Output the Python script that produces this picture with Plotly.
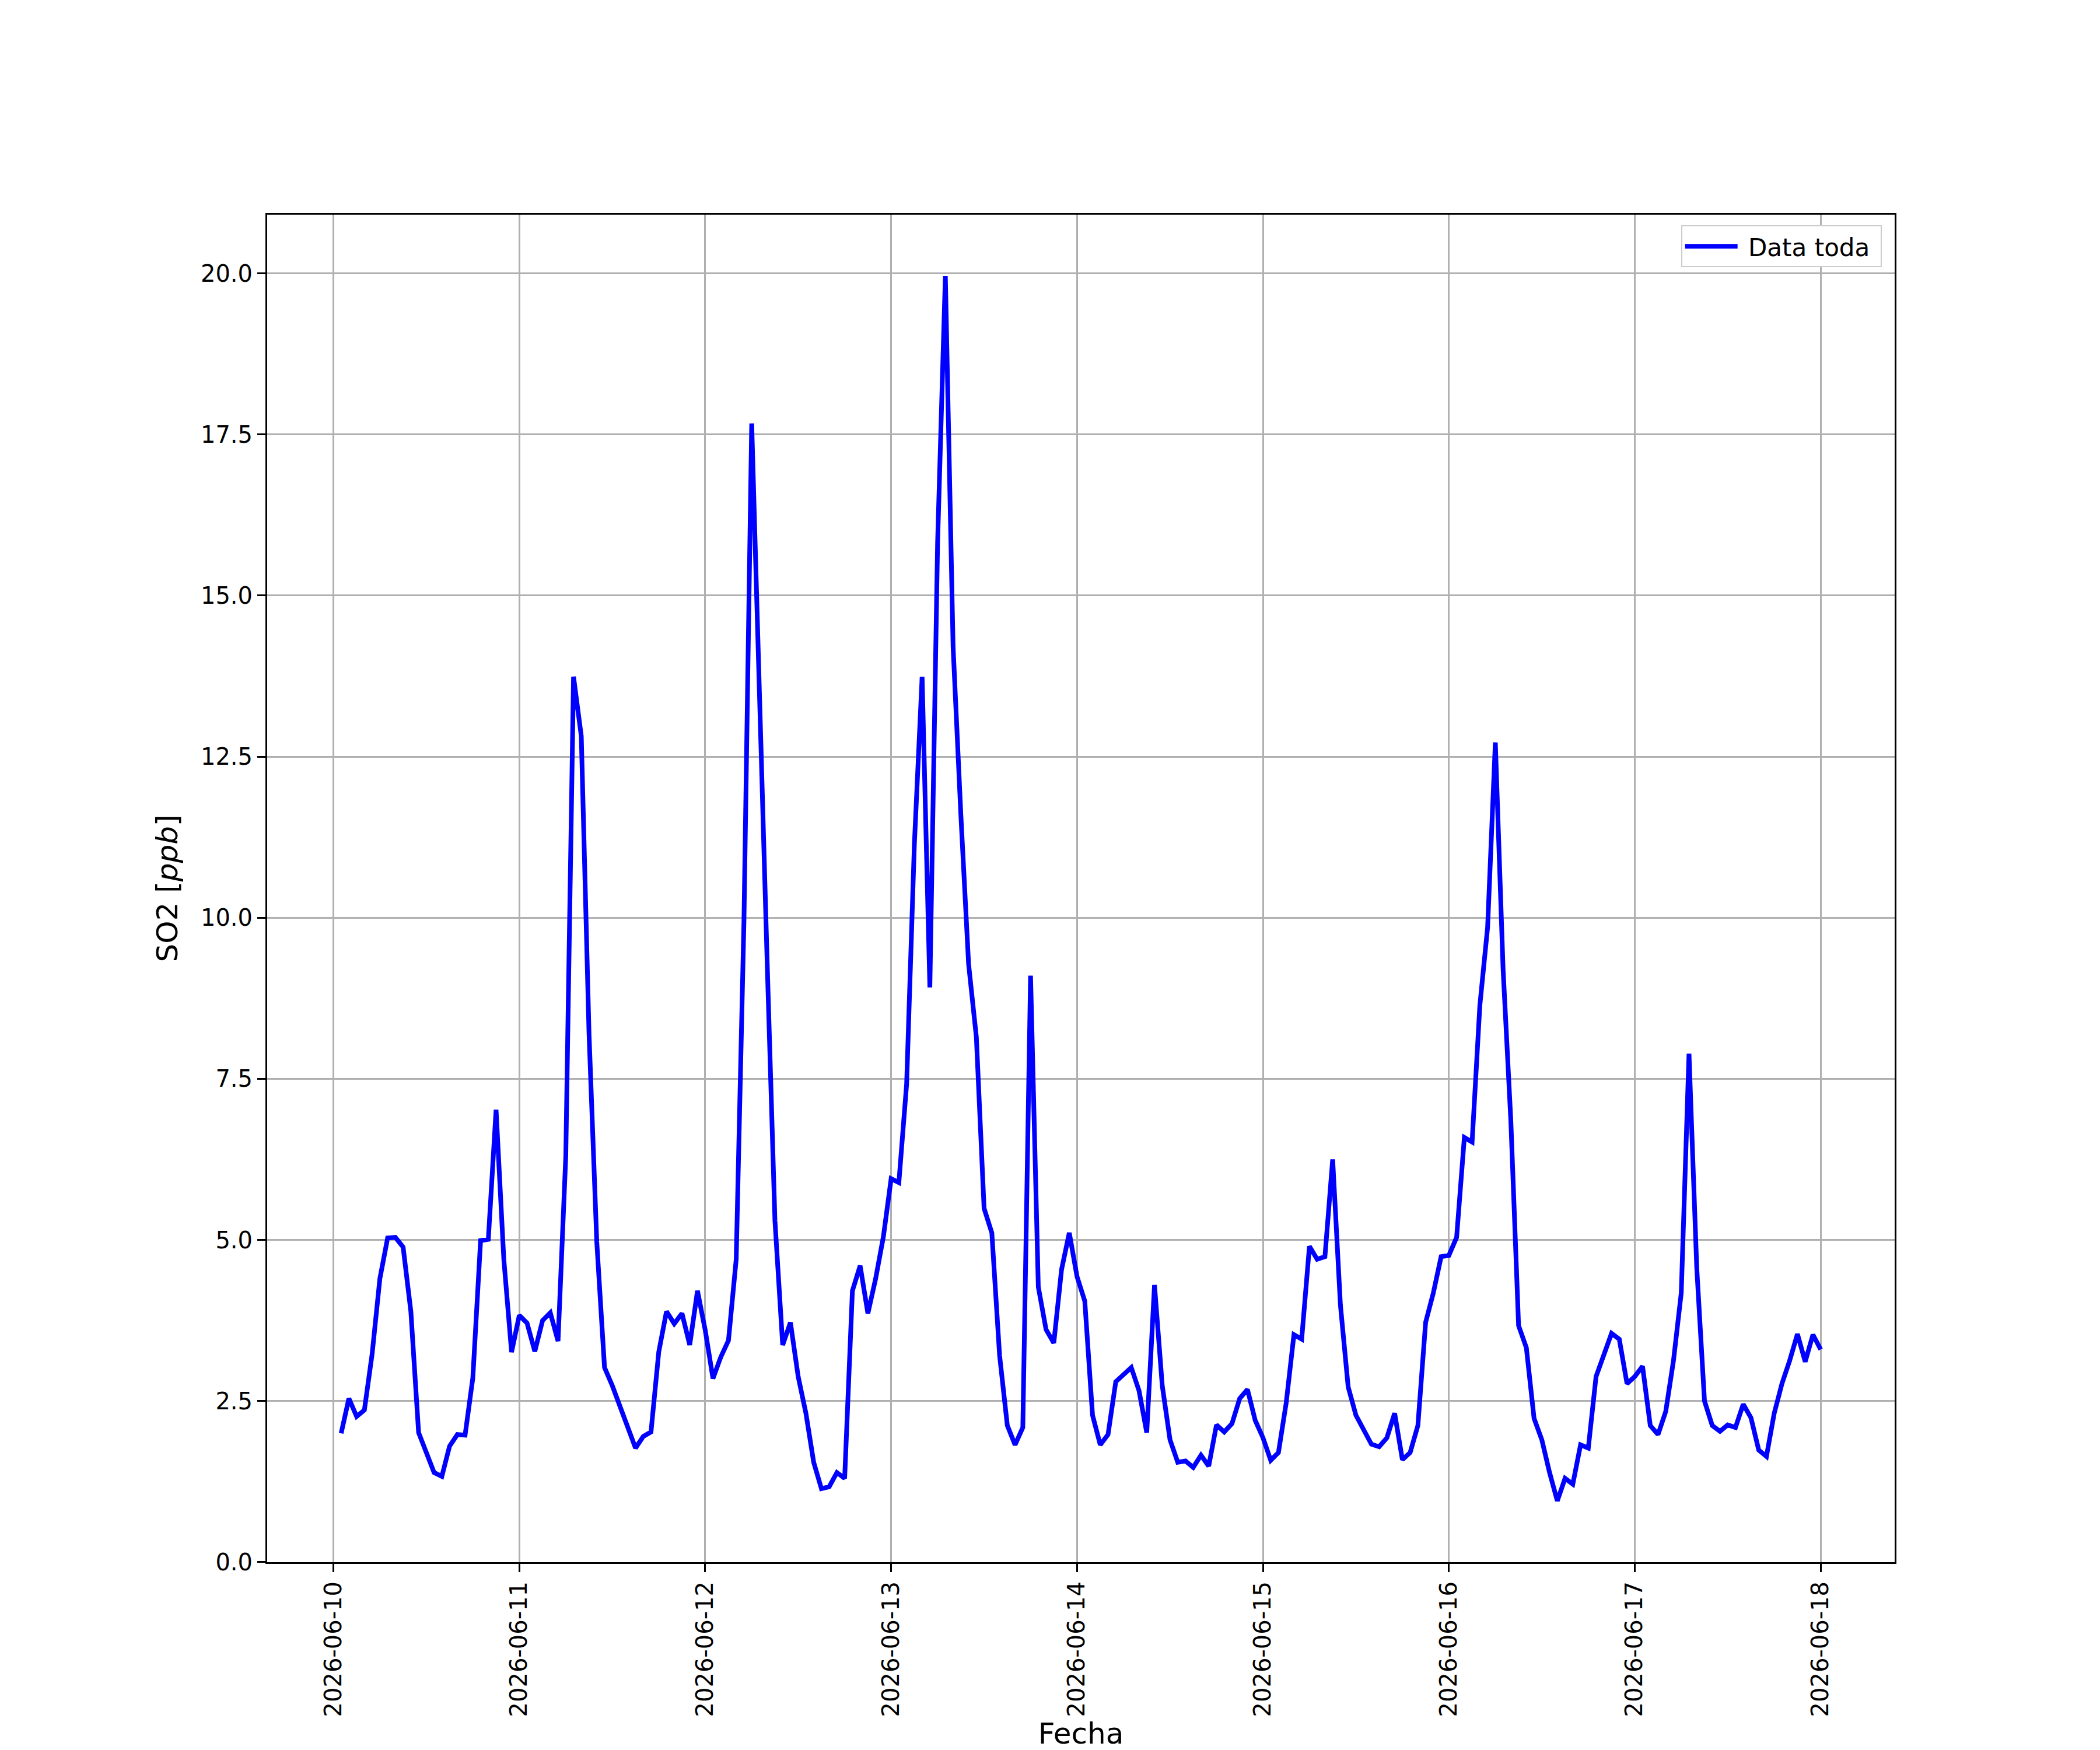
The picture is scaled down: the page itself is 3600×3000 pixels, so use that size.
import pandas as pd
import plotly.graph_objects as go

# hourly SO2 readings, one list per day (06-10 starts at 01:00, 06-18 has only 00:00)
so2_0610 = [2.0, 2.54, 2.26, 2.36, 3.23, 4.40, 5.03, 5.04, 4.89, 3.89, 2.01, 1.71,
            1.39, 1.33, 1.80, 1.98, 1.97, 2.86, 4.99, 5.01, 7.02, 4.70, 3.26]
so2_0611 = [3.83, 3.71, 3.27, 3.75, 3.87, 3.43, 6.30, 13.74, 12.82, 8.2, 4.97, 3.02,
            2.74, 2.42, 2.09, 1.77, 1.95, 2.02, 3.26, 3.89, 3.70, 3.86, 3.37, 4.21]
so2_0612 = [3.6, 2.85, 3.18, 3.44, 4.70, 9.95, 17.67, 13.3, 9.3, 5.30, 3.37, 3.72,
            2.88, 2.31, 1.55, 1.14, 1.17, 1.39, 1.30, 4.21, 4.60, 3.86, 4.40, 5.05]
so2_0613 = [5.95, 5.89, 7.42, 11.14, 13.74, 8.92, 15.83, 19.96, 14.2, 11.6, 9.28, 8.15,
            5.49, 5.11, 3.21, 2.12, 1.82, 2.09, 9.1, 4.27, 3.61, 3.40, 4.54, 5.11]
so2_0614 = [4.43, 4.05, 2.28, 1.82, 1.98, 2.80, 2.91, 3.02, 2.66, 2.01, 4.30, 2.74,
            1.90, 1.55, 1.57, 1.47, 1.66, 1.49, 2.13, 2.02, 2.15, 2.54, 2.68, 2.20]
so2_0615 = [1.93, 1.58, 1.70, 2.47, 3.53, 3.46, 4.90, 4.70, 4.74, 6.25, 3.99, 2.72,
            2.28, 2.04, 1.83, 1.79, 1.93, 2.31, 1.59, 1.70, 2.12, 3.72, 4.18, 4.74]
so2_0616 = [4.76, 5.04, 6.59, 6.52, 8.64, 9.85, 12.72, 9.2, 6.85, 3.67, 3.33, 2.23,
            1.90, 1.39, 0.95, 1.30, 1.21, 1.82, 1.77, 2.88, 3.21, 3.55, 3.46, 2.77]
so2_0617 = [2.88, 3.04, 2.12, 1.98, 2.34, 3.13, 4.18, 7.89, 4.57, 2.50, 2.12, 2.03,
            2.13, 2.09, 2.45, 2.24, 1.74, 1.64, 2.31, 2.77, 3.13, 3.54, 3.11, 3.53]
so2_0618 = [3.30]

so2 = so2_0610 + so2_0611 + so2_0612 + so2_0613 + so2_0614 + so2_0615 + so2_0616 + so2_0617 + so2_0618
fechas = pd.date_range("2026-06-10 01:00", periods=len(so2), freq="h")

day_ticks = pd.date_range("2026-06-10", "2026-06-18", freq="D")
day_labels = [d.strftime("%Y-%m-%d") for d in day_ticks]

# matplotlib-like 5% padding
span_t = fechas[-1] - fechas[0]
x_range = [fechas[0] - span_t * 0.05, fechas[-1] + span_t * 0.05]
span_y = max(so2) - min(so2)
y_range = [min(so2) - span_y * 0.05, max(so2) + span_y * 0.05]

font = "DejaVu Sans"

fig = go.Figure(data=[go.Scatter(
    x=fechas,
    y=so2,
    mode="lines",
    name="&nbsp;Data toda&nbsp;",
    line=dict(color="#0000ff", width=8),
)])

fig.update_layout(
    width=3600,
    height=3000,
    margin=dict(l=450, r=360, t=360, b=330),
    paper_bgcolor="white",
    plot_bgcolor="white",
    font=dict(family=font, size=40, color="black"),
    showlegend=True,
    legend=dict(
        x=0.992, y=0.992, xanchor="right", yanchor="top",
        bgcolor="white", bordercolor="#cccccc", borderwidth=2,
        font=dict(family=font, size=42),
        itemwidth=90,
    ),
    xaxis=dict(
        range=x_range,
        tickvals=day_ticks,
        ticktext=day_labels,
        tickangle=-90,
        ticks="outside",
        ticklen=14,
        tickwidth=3,
        tickcolor="black",
        showgrid=True,
        gridcolor="#b0b0b0",
        gridwidth=3,
        showline=True,
        linecolor="black",
        linewidth=3,
        mirror=True,
        zeroline=False,
        automargin=False,
        title=dict(text="Fecha", font=dict(size=50), standoff=6),
    ),
    yaxis=dict(
        range=y_range,
        dtick=2.5,
        tick0=0,
        tickformat=".1f",
        ticks="outside",
        ticklen=14,
        tickwidth=3,
        tickcolor="black",
        showgrid=True,
        gridcolor="#b0b0b0",
        gridwidth=3,
        showline=True,
        linecolor="black",
        linewidth=3,
        mirror=True,
        zeroline=False,
        automargin=False,
        title=dict(text="SO2 [<i>ppb</i>]", font=dict(size=50), standoff=24),
    ),
)

fig.write_html("out.html")
